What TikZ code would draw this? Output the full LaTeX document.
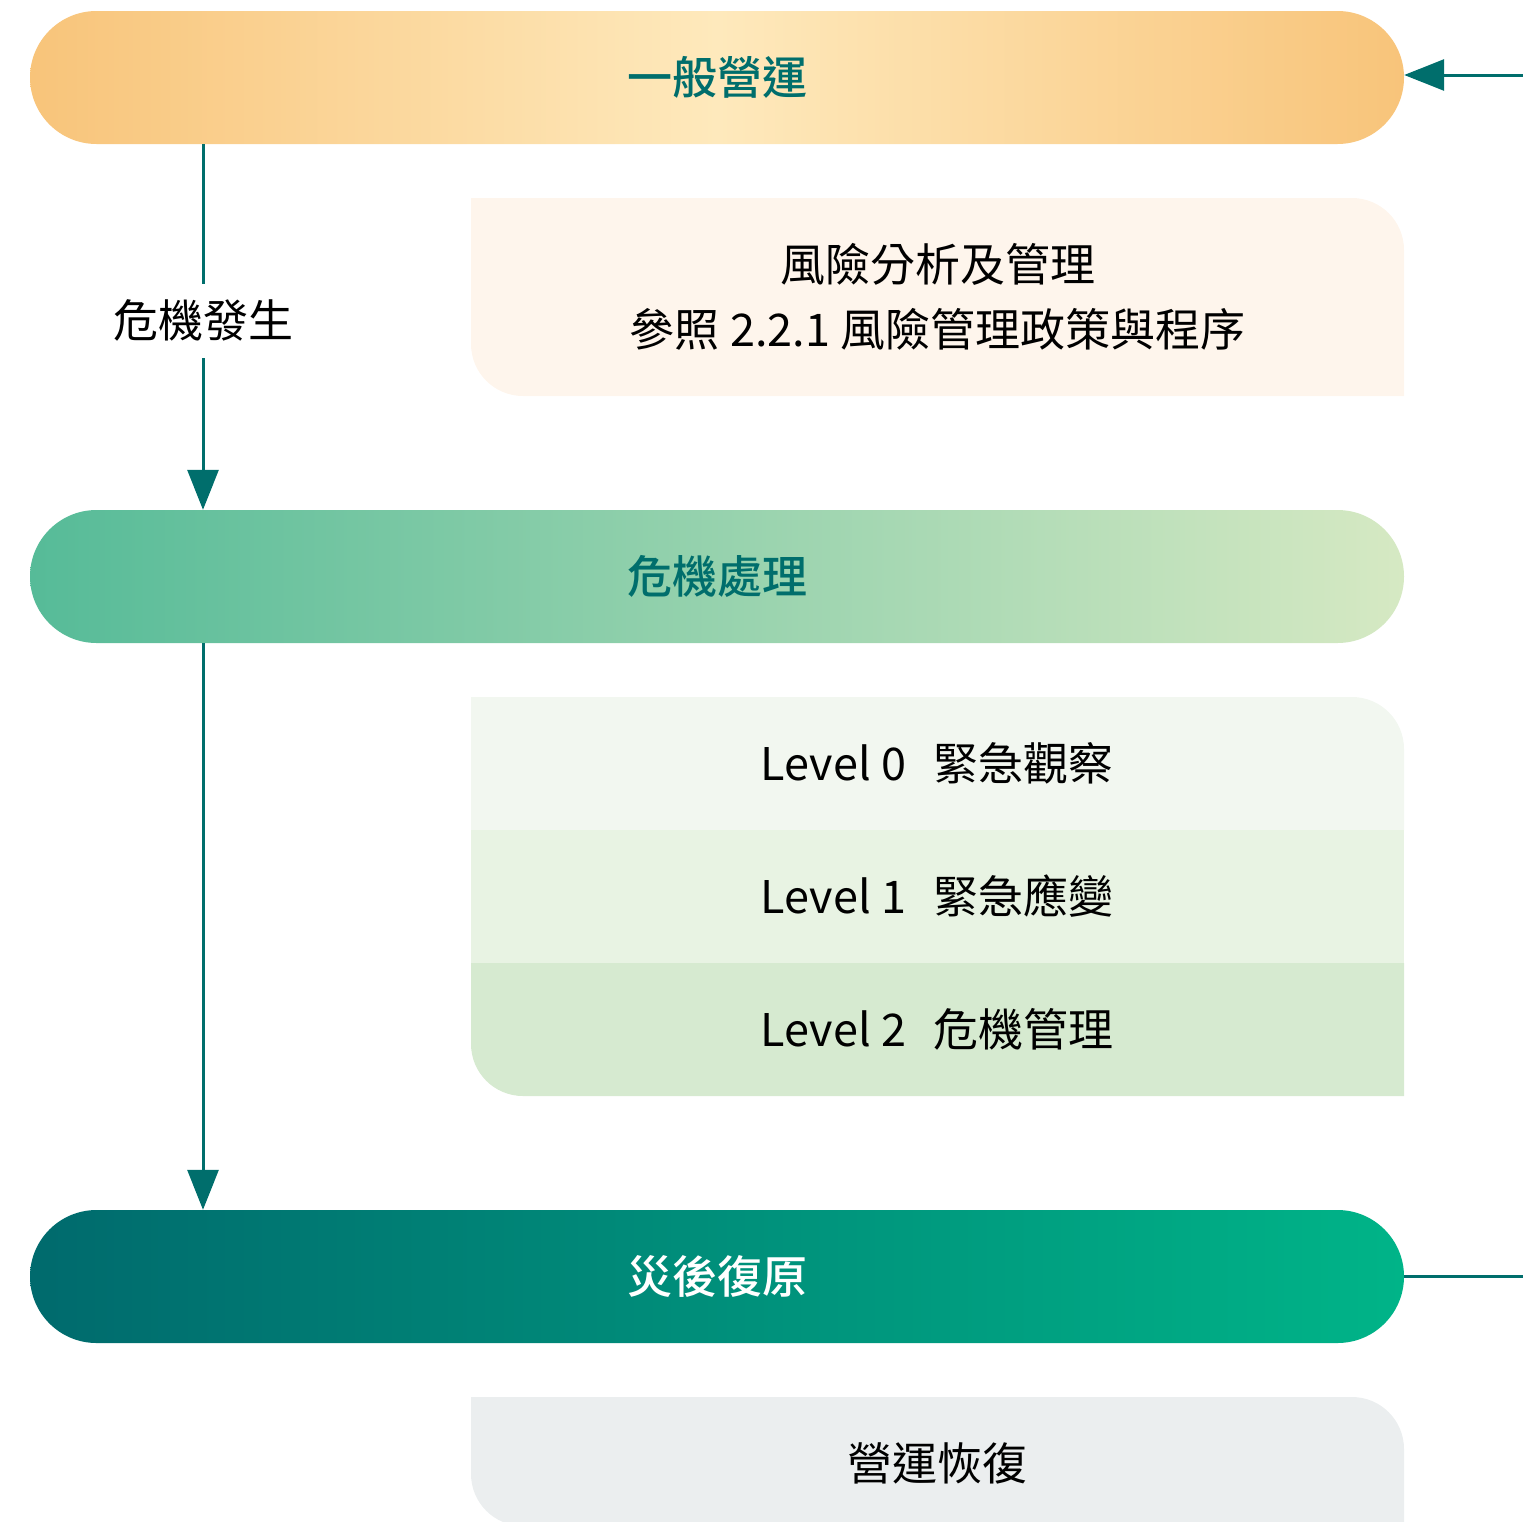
\documentclass[tikz,border=0pt]{standalone}
\usepackage{fontspec}
\setmainfont{Noto Sans CJK TC}
\newfontfamily\pillfont{Noto Sans CJK TC Medium}
\usetikzlibrary{arrows.meta}

\definecolor{flowteal}{HTML}{006E6C}
\definecolor{opsedge}{HTML}{F8C47A}
\definecolor{opsmid}{HTML}{FEE9BC}
\definecolor{crisisleft}{HTML}{56BB98}
\definecolor{crisisright}{HTML}{D6E9C3}
\definecolor{recovleft}{HTML}{006A6D}
\definecolor{recovright}{HTML}{00B488}
\definecolor{riskfill}{HTML}{FEF5EC}
\definecolor{levelzero}{HTML}{F2F7F0}
\definecolor{levelone}{HTML}{E8F3E3}
\definecolor{leveltwo}{HTML}{D6EAD0}
\definecolor{resumefill}{HTML}{EBEEEF}

\begin{document}
\begin{tikzpicture}[x=1pt,y=1pt,
		pill/.style={minimum width=1374pt, minimum height=133pt, rounded corners=66.5pt,
			inner sep=0pt, font=\pillfont\fontsize{45}{54}\selectfont},
		boxtext/.style={inner sep=0pt, text=black, font=\fontsize{45}{65}\selectfont},
		flow/.style={draw=flowteal, line width=3pt},
		flowarrow/.style={flow, -{Triangle[length=40pt,width=31pt]}}]
			\useasboundingbox (0,0) rectangle (1523,-1521);

			% phases
			\node[pill, left color=opsedge, right color=opsedge, middle color=opsmid, text=flowteal]
				(ops) at (717,-77.5) {一般營運};
			\node[pill, left color=crisisleft, right color=crisisright, text=flowteal]
				(crisis) at (717,-576.5) {危機處理};
			\node[pill, left color=recovleft, right color=recovright, text=white]
				(recov) at (717,-1276.5) {災後復原};

			% risk analysis box
			\fill[riskfill]	(471,-198) -- (1352,-198) arc[start angle=90, end angle=0, radius=52pt]
							-- (1404,-396) -- (523,-396) arc[start angle=270, end angle=180, radius=52pt] -- cycle;
			\node[boxtext, align=center] (risk) at (937.5,-297) {風險分析及管理\\參照 2.2.1 風險管理政策與程序};

			% levels
			\fill[levelzero]	(471,-697) -- (1352,-697) arc[start angle=90, end angle=0, radius=52pt]
							-- (1404,-830) -- (471,-830) -- cycle;
			\fill[levelone]	(471,-830) rectangle (1404,-963);
			\fill[leveltwo]	(471,-963) -- (1404,-963) -- (1404,-1096)
							-- (523,-1096) arc[start angle=270, end angle=180, radius=52pt] -- cycle;
			\node[boxtext] (lvzero) at (937,-763.5) {Level 0\hspace{0.6em}緊急觀察};
			\node[boxtext] (lvone) at (937,-896.5) {Level 1\hspace{0.6em}緊急應變};
			\node[boxtext] (lvtwo) at (937,-1029.5) {Level 2\hspace{0.6em}危機管理};

			% resume box
			\fill[resumefill]	(471,-1397) -- (1352,-1397) arc[start angle=90, end angle=0, radius=52pt]
							-- (1404,-1526) -- (523,-1526) arc[start angle=270, end angle=180, radius=52pt] -- cycle;
			\node[boxtext] (resume) at (937.5,-1463) {營運恢復};

			% connectors
			\coordinate (lane) at (203,0);
			\coordinate (edge) at (1523,-75);
			\draw[flowarrow] (lane |- ops.south) -- node[pos=0.483, fill=white, inner xsep=4pt, inner ysep=16pt,
				text=black, font=\fontsize{45}{54}\selectfont] (onset) {危機發生} (lane |- crisis.north);
			\draw[flowarrow] (lane |- crisis.south) -- (lane |- recov.north);
			\draw[flowarrow] (edge) -- (edge -| ops.east);
			\draw[flow] (recov.east) -- (recov.east -| edge);
		\end{tikzpicture}
\end{document}
